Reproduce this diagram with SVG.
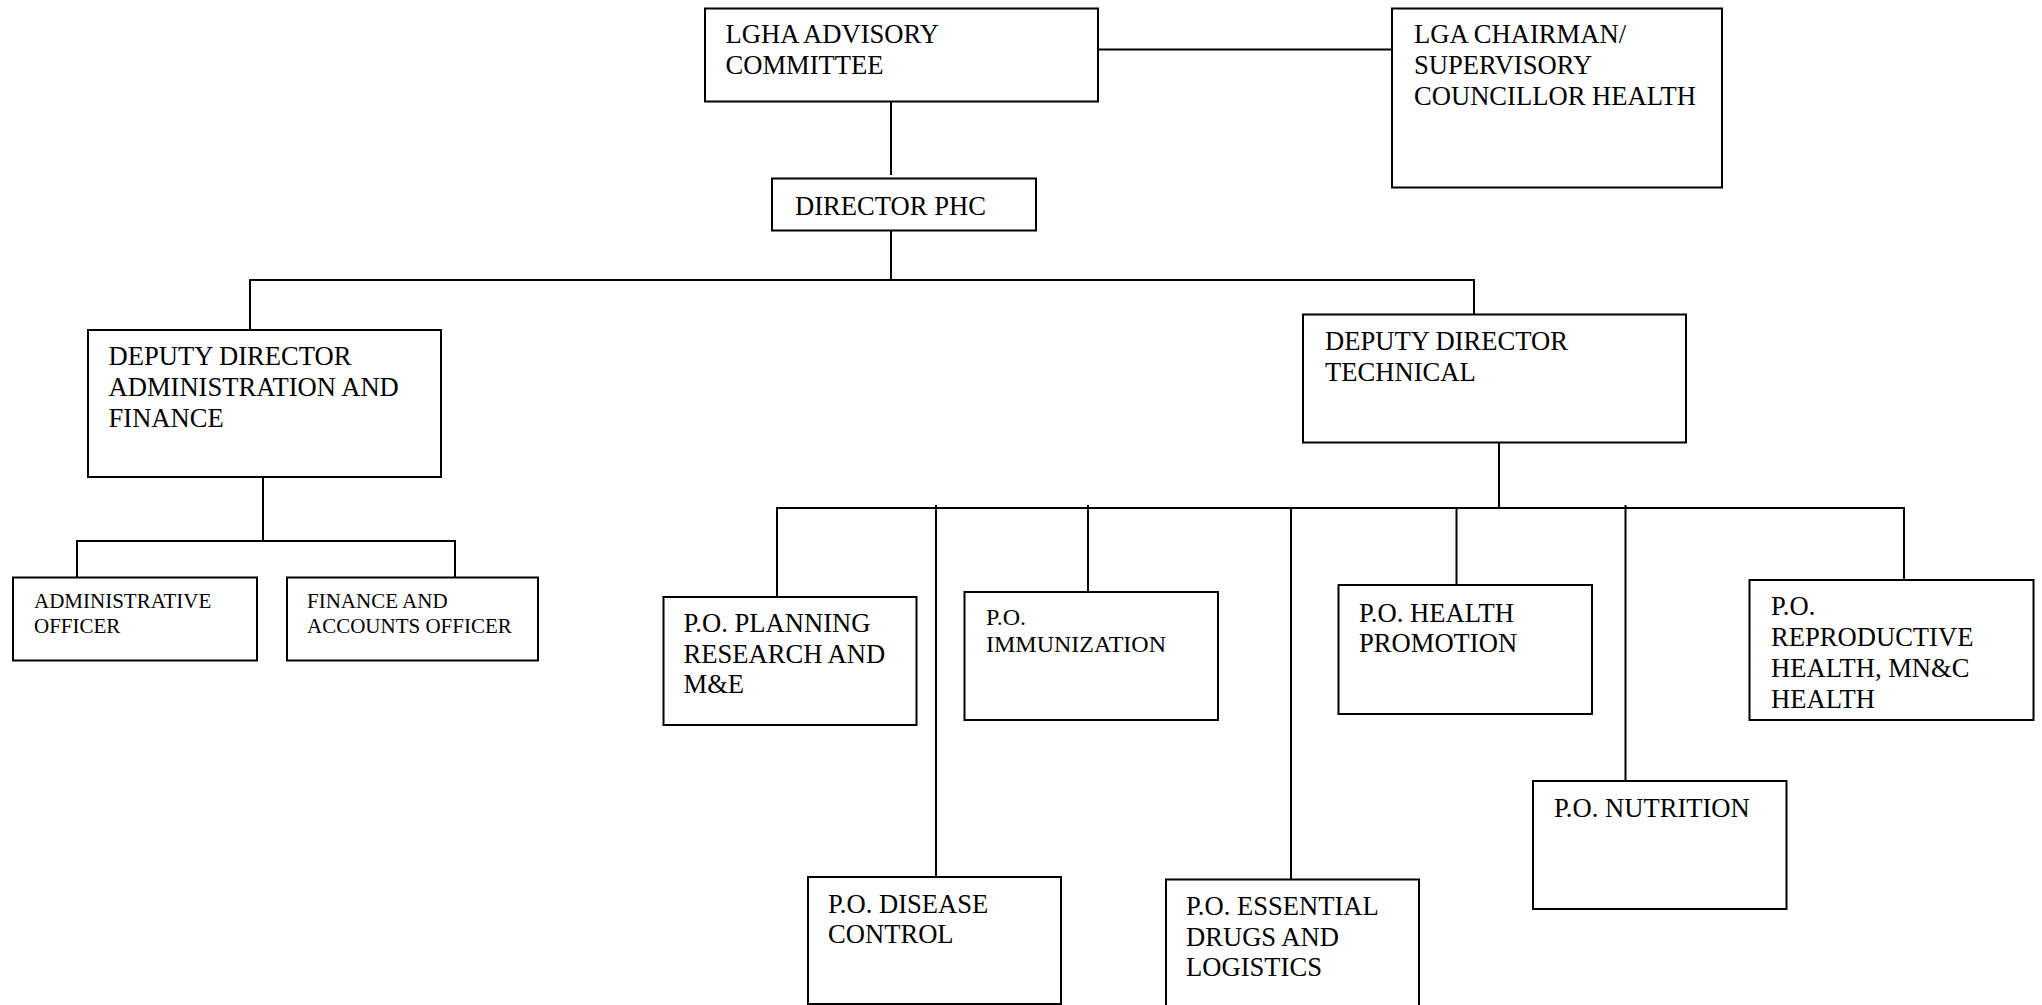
<svg xmlns="http://www.w3.org/2000/svg" width="2042" height="1005" viewBox="0 0 2042 1005">
<style>
.box{fill:#fff;stroke:#000;stroke-width:2}
.ln{stroke:#000;stroke-width:2;fill:none}
text{font-family:"Liberation Serif","Times New Roman",serif;fill:#000;font-size:26.6px}
.sm{font-size:21px}
.md{font-size:24px}
</style>
<rect width="2042" height="1005" fill="#fff"/>
<g id="connectors">
<line class="ln" x1="1098" y1="49.5" x2="1392" y2="49.5"/>
<line class="ln" x1="891" y1="102" x2="891" y2="175"/>
<line class="ln" x1="891" y1="231" x2="891" y2="280"/>
<polyline class="ln" points="250,330 250,280 1474,280 1474,314"/>
<line class="ln" x1="263" y1="473" x2="263" y2="541"/>
<polyline class="ln" points="77,577 77,541 455,541 455,577"/>
<line class="ln" x1="1499" y1="443" x2="1499" y2="508"/>
<polyline class="ln" points="777,597 777,508 1904,508 1904,580"/>
<line class="ln" x1="936" y1="505" x2="936" y2="877"/>
<line class="ln" x1="1088" y1="505" x2="1088" y2="592"/>
<line class="ln" x1="1291" y1="508" x2="1291" y2="879"/>
<line class="ln" x1="1456.5" y1="508" x2="1456.5" y2="585"/>
<line class="ln" x1="1625.5" y1="505" x2="1625.5" y2="781"/>
</g>
<g id="lgha">
<rect class="box" x="705" y="8.5" width="393" height="93"/>
<text x="725.5" y="43">LGHA ADVISORY</text>
<text x="725.5" y="74">COMMITTEE</text>
</g>
<g id="lga-chairman">
<rect class="box" x="1392" y="8.5" width="330" height="179"/>
<text x="1414" y="43">LGA CHAIRMAN/</text>
<text x="1414" y="74">SUPERVISORY</text>
<text x="1414" y="105">COUNCILLOR HEALTH</text>
</g>
<g id="director-phc">
<rect class="box" x="772" y="178.5" width="264" height="52"/>
<text x="795" y="215">DIRECTOR PHC</text>
</g>
<g id="dd-admin">
<rect class="box" x="88" y="330" width="353" height="147"/>
<text x="108.5" y="365">DEPUTY DIRECTOR</text>
<text x="108.5" y="396">ADMINISTRATION AND</text>
<text x="108.5" y="427">FINANCE</text>
</g>
<g id="dd-technical">
<rect class="box" x="1303" y="314.5" width="383" height="128"/>
<text x="1325" y="350">DEPUTY DIRECTOR</text>
<text x="1325" y="381">TECHNICAL</text>
</g>
<g id="admin-officer">
<rect class="box" x="13" y="577.5" width="244" height="83"/>
<text class="sm" x="34" y="608">ADMINISTRATIVE</text>
<text class="sm" x="34" y="632.5">OFFICER</text>
</g>
<g id="finance-officer">
<rect class="box" x="287" y="577.5" width="251" height="83"/>
<text class="sm" x="307" y="608">FINANCE AND</text>
<text class="sm" x="307" y="632.5">ACCOUNTS OFFICER</text>
</g>
<g id="po-planning">
<rect class="box" x="663.5" y="597" width="253" height="128"/>
<text x="683.5" y="632">P.O. PLANNING</text>
<text x="683.5" y="662.7">RESEARCH AND</text>
<text x="683.5" y="693.3">M&amp;E</text>
</g>
<g id="po-immunization">
<rect class="box" x="964.5" y="592" width="253.5" height="128"/>
<text class="md" x="986" y="625">P.O.</text>
<text class="md" x="986" y="652">IMMUNIZATION</text>
</g>
<g id="po-health-promotion">
<rect class="box" x="1338.5" y="585" width="253.5" height="129"/>
<text x="1359" y="621.7">P.O. HEALTH</text>
<text x="1359" y="652">PROMOTION</text>
</g>
<g id="po-reproductive">
<rect class="box" x="1749.5" y="580" width="284" height="140"/>
<text x="1771" y="615">P.O.</text>
<text x="1771" y="646">REPRODUCTIVE</text>
<text x="1771" y="677">HEALTH, MN&amp;C</text>
<text x="1771" y="707.5">HEALTH</text>
</g>
<g id="po-nutrition">
<rect class="box" x="1533" y="781" width="253.5" height="128"/>
<text x="1554" y="816.7">P.O. NUTRITION</text>
</g>
<g id="po-disease-control">
<rect class="box" x="808" y="877" width="253" height="127"/>
<text x="828" y="912.7">P.O. DISEASE</text>
<text x="828" y="943.3">CONTROL</text>
</g>
<g id="po-essential-drugs">
<rect class="box" x="1166" y="879.5" width="253" height="127"/>
<text x="1186" y="915">P.O. ESSENTIAL</text>
<text x="1186" y="945.7">DRUGS AND</text>
<text x="1186" y="976">LOGISTICS</text>
</g>
</svg>
